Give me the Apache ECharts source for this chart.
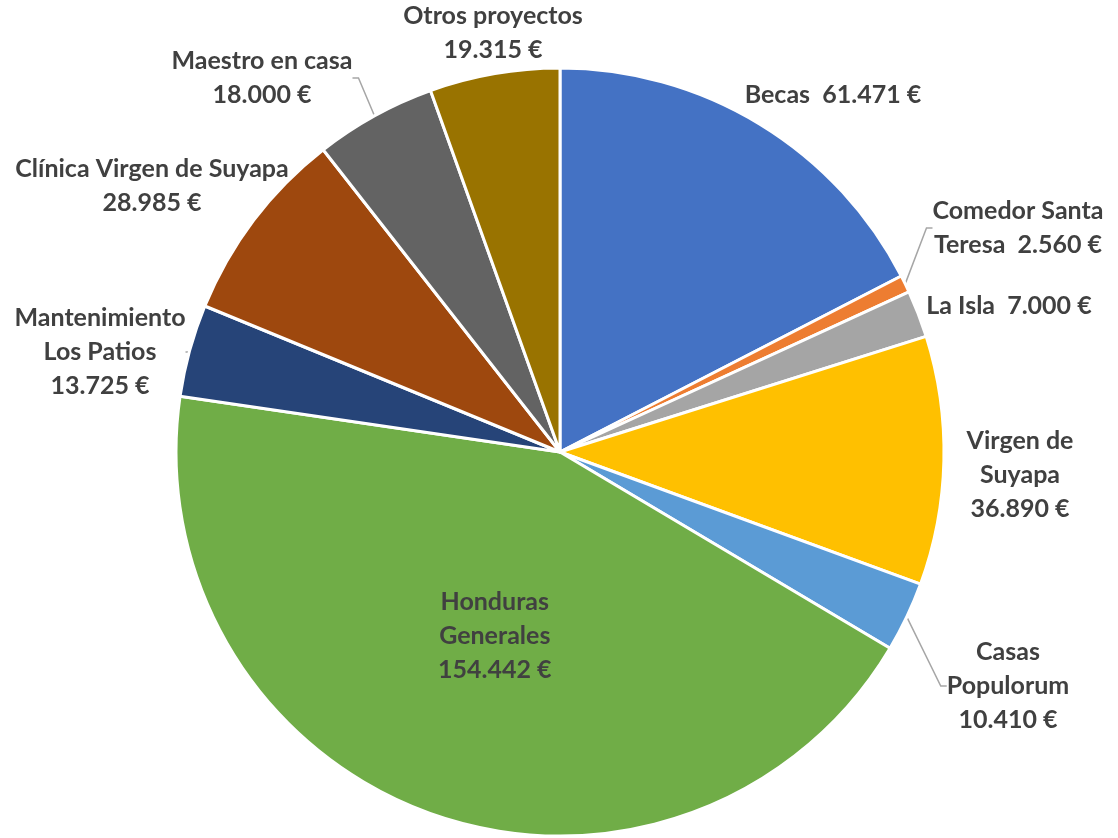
<!DOCTYPE html>
<html>
<head>
<meta charset="utf-8">
<title>Proyectos Honduras</title>
<script src="https://cdn.jsdelivr.net/npm/echarts@6/dist/echarts.min.js"></script>
<style>
  html, body { margin: 0; padding: 0; background: #fff; }
  #main { width: 1118px; height: 838px; }
</style>
</head>
<body>
<div id="main"></div>
<script>
// datos del gráfico
var names = ['Becas', 'Comedor Santa Teresa', 'La Isla', 'Virgen de Suyapa', 'Casas Populorum',
  'Honduras Generales', 'Mantenimiento Los Patios', 'Clínica Virgen de Suyapa', 'Maestro en casa', 'Otros proyectos']
var values = [61471, 2560, 7000, 36890, 10410, 154442, 13725, 28985, 18000, 19315]
// texto de la etiqueta (con saltos de línea)
var labelNames = ['Becas  ', 'Comedor Santa\nTeresa  ', 'La Isla  ', 'Virgen de\nSuyapa\n', 'Casas\nPopulorum\n',
  'Honduras\nGenerales\n', 'Mantenimiento\nLos Patios\n', 'Clínica Virgen de Suyapa\n', 'Maestro en casa\n', 'Otros proyectos\n']
var colors = ['#4472C4', '#ED7D31', '#A5A5A5', '#FFC000', '#5B9BD5',
  '#70AD47', '#264478', '#9E480E', '#636363', '#997300']
var withLine = [false, true, false, false, true, false, true, true, true, false]

// posición de cada etiqueta (centro del bloque de texto)
var labelPos = {
  'Becas': [833, 95],
  'Comedor Santa Teresa': [1018, 228],
  'La Isla': [1009, 306],
  'Virgen de Suyapa': [1020, 475],
  'Casas Populorum': [1008, 686],
  'Mantenimiento Los Patios': [100, 352],
  'Clínica Virgen de Suyapa': [152, 186],
  'Maestro en casa': [262, 78],
  'Otros proyectos': [493, 33]
}

function euros(v) {
  return String(v).replace(/\B(?=(\d{3})+(?!\d))/g, '.') + ' €'
}

var pieData = names.map(function (n, i) {
  var item = {
    name: n,
    value: values[i],
    itemStyle: { color: colors[i] },
    labelLine: { show: withLine[i] }
  }
  if (n === 'Honduras Generales') {
    item.label = { position: 'inside' }
  }
  return item
})

var chart = echarts.init(document.getElementById('main'))
chart.setOption({
  backgroundColor: '#ffffff',
  animation: false,
  series: [
    {
      type: 'pie',
      center: [560, 452],
      radius: 384,
      startAngle: 90,
      clockwise: true,
      avoidLabelOverlap: false,
      data: pieData,
      itemStyle: {
        borderColor: '#ffffff',
        borderWidth: 3
      },
      label: {
        show: true,
        position: 'outside',
        formatter: function (p) {
          return labelNames[p.dataIndex] + euros(p.value)
        },
        fontFamily: 'Lato',
        fontWeight: 'bold',
        fontSize: 25,
        lineHeight: 34,
        color: '#404040',
        align: 'center'
      },
      labelLine: {
        length: 10,
        length2: 6,
        lineStyle: { color: '#a6a6a6', width: 1.5 }
      },
      labelLayout: function (params) {
        var pos = labelPos[names[params.dataIndex]]
        if (!pos) return {}
        return {
          x: pos[0],
          y: pos[1],
          align: 'center',
          verticalAlign: 'middle'
        }
      }
    }
  ]
})
</script>
</body>
</html>
